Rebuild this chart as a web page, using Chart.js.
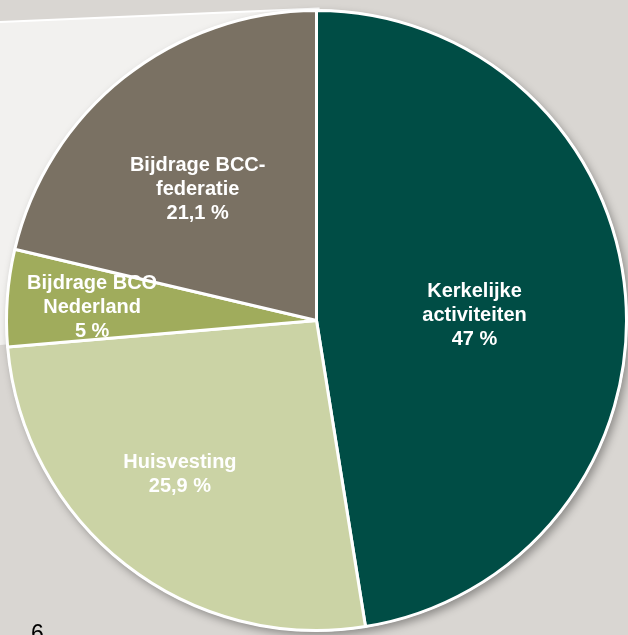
<!DOCTYPE html>
<html>
<head>
<meta charset="utf-8">
<script src="https://cdn.jsdelivr.net/npm/chart.js@4.4.1/dist/chart.umd.min.js"></script>
<style>
  html, body { margin: 0; padding: 0; background: #d9d6d2; overflow: hidden; }
  #wrap { position: relative; width: 628px; height: 635px; }
  #pageNo { position: absolute; left: 31px; top: 622px; font: 23px/23px "Liberation Sans", Arial, sans-serif; color: #000; }
</style>
</head>
<body>
<div id="wrap">
  <canvas id="chart" width="628" height="635"></canvas>
  <div id="pageNo">6</div>
</div>
<script>
// Slice data, clockwise from 12 o'clock
const categories = [
  ['Kerkelijke', 'activiteiten'],
  ['Huisvesting'],
  ['Bijdrage BCO', 'Nederland'],
  ['Bijdrage BCC-', 'federatie'],
];
const percentages = [47, 25.9, 5, 21.1];
const valueLabels = ['47 %', '25,9 %', '5 %', '21,1 %'];

const sliceColors = ['#004d45', '#cbd3a5', '#a0ac5c', '#7a7163'];
// label placement: fraction of radius, angle shift (deg) from slice middle
const labelPlace = [[0.51, 2.75], [0.665, 3.5], [0.725, -0.9], [0.57, -3.9]];

const backdrop = {
  id: 'backdrop',
  beforeDraw(chart) {
    const ctx = chart.ctx;
    const arc = chart.getDatasetMeta(0).data[0];
    ctx.save();
    ctx.fillStyle = '#f2f1ef';
    ctx.beginPath();
    ctx.moveTo(0, 22);
    ctx.lineTo(arc.x + 3, arc.y - arc.outerRadius - 2);
    ctx.lineTo(arc.x, arc.y);
    ctx.lineTo(0, 345);
    ctx.closePath();
    ctx.fill();
    ctx.strokeStyle = '#ffffff';
    ctx.lineWidth = 2;
    ctx.beginPath();
    ctx.moveTo(0, 22);
    ctx.lineTo(arc.x + 3, arc.y - arc.outerRadius - 2);
    ctx.stroke();
    ctx.restore();
  },
  beforeDatasetsDraw(chart) {
    const ctx = chart.ctx;
    const arc = chart.getDatasetMeta(0).data[0];
    ctx.save();
    ctx.shadowColor = 'rgba(0,0,0,0.35)';
    ctx.shadowBlur = 8;
    ctx.shadowOffsetX = 3;
    ctx.shadowOffsetY = 4;
    ctx.fillStyle = '#ffffff';
    ctx.beginPath();
    ctx.arc(arc.x, arc.y, arc.outerRadius + 1, 0, Math.PI * 2);
    ctx.fill();
    ctx.restore();
  },
};

const sliceLabels = {
  id: 'sliceLabels',
  afterDatasetsDraw(chart) {
    const ctx = chart.ctx;
    const meta = chart.getDatasetMeta(0);
    ctx.save();
    ctx.fillStyle = '#ffffff';
    ctx.font = 'bold 20px "Liberation Sans", Arial, sans-serif';
    ctx.textAlign = 'center';
    ctx.textBaseline = 'middle';
    meta.data.forEach((arc, i) => {
      const [frac, shift] = labelPlace[i];
      const mid = (arc.startAngle + arc.endAngle) / 2 + shift * Math.PI / 180;
      const r = arc.outerRadius * frac;
      const x = arc.x + Math.cos(mid) * r;
      const y = arc.y + Math.sin(mid) * r;
      const lines = categories[i].concat([valueLabels[i]]);
      const lh = 24;
      lines.forEach((t, k) => {
        ctx.fillText(t, x, y + (k - (lines.length - 1) / 2) * lh);
      });
    });
    ctx.restore();
  },
};

new Chart(document.getElementById('chart'), {
  type: 'pie',
  data: {
    labels: categories.map(c => c.join(' ')),
    datasets: [{
      data: percentages,
      backgroundColor: sliceColors,
      borderColor: '#ffffff',
      borderWidth: 3,
    }],
  },
  options: {
    responsive: false,
    animation: false,
    layout: { padding: { left: 5, right: 0, top: 9, bottom: 3 } },
    plugins: {
      legend: { display: false },
      tooltip: { enabled: false },
    },
  },
  plugins: [backdrop, sliceLabels],
});
</script>
</body>
</html>
